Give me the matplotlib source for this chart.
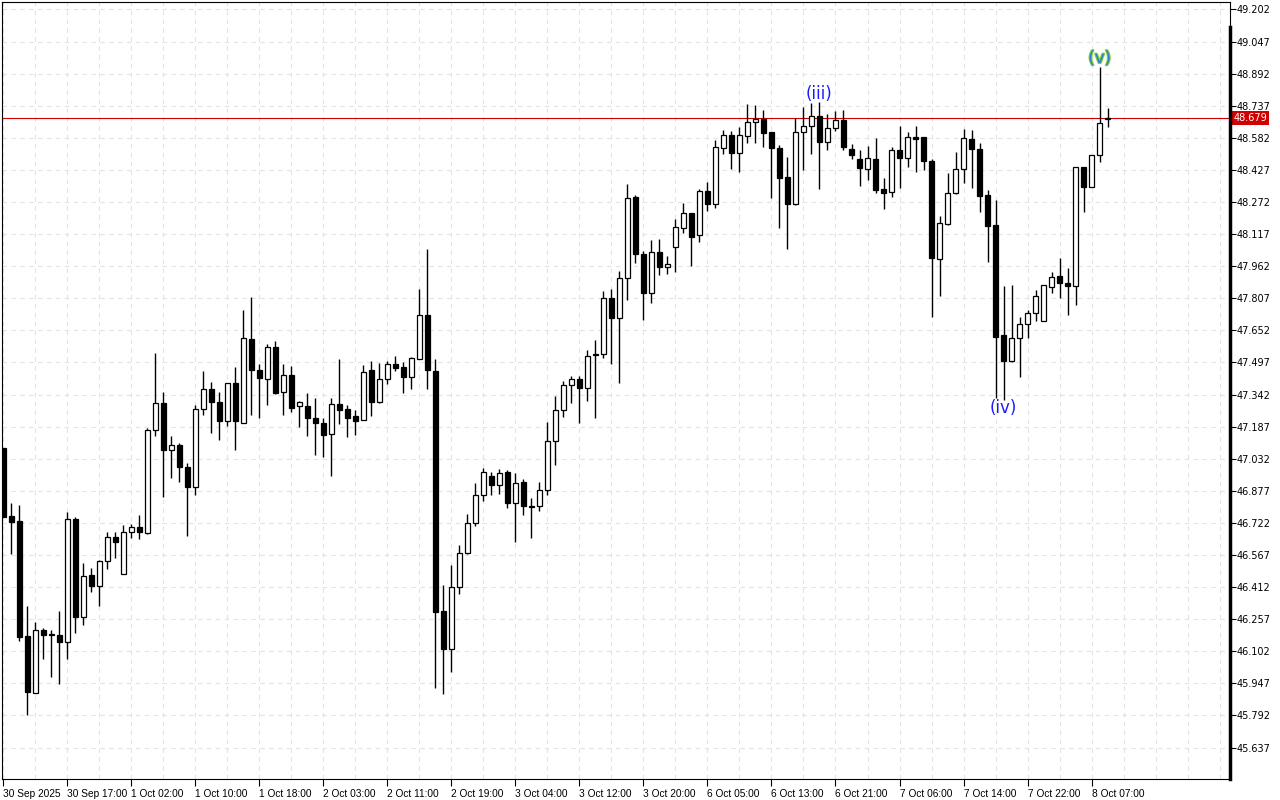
import matplotlib
matplotlib.use("Agg")
from matplotlib import pyplot as plt
from matplotlib.ticker import MultipleLocator
import matplotlib.patheffects as pe
import numpy as np

# hourly candles
opens = [47.082, 46.755, 46.731, 46.174, 45.902, 46.203, 46.185, 46.180, 46.148, 46.742,
         46.269, 46.470, 46.419, 46.536, 46.654, 46.474, 46.677, 46.701, 46.675, 47.169,
         47.300, 47.074, 47.098, 46.992, 46.897, 47.271, 47.367, 47.305, 47.216, 47.396,
         47.206, 47.609, 47.461, 47.418, 47.570, 47.353, 47.435, 47.285, 47.285, 47.230,
         47.205, 47.150, 47.296, 47.272, 47.238, 47.218, 47.461, 47.307, 47.416, 47.488,
         47.474, 47.425, 47.515, 47.725, 47.454, 46.296, 46.111, 46.411, 46.575, 46.720,
         46.855, 46.947, 46.904, 46.966, 46.820, 46.918, 46.804, 46.804, 46.879, 47.116,
         47.266, 47.387, 47.416, 47.375, 47.536, 47.536, 47.807, 47.710, 47.904, 48.295,
         48.020, 47.834, 48.029, 47.960, 48.053, 48.145, 48.218, 48.111, 48.327, 48.261,
         48.532, 48.594, 48.507, 48.590, 48.657, 48.675, 48.609, 48.532, 48.391, 48.261,
         48.609, 48.639, 48.688, 48.561, 48.628, 48.668, 48.527, 48.478, 48.430, 48.478,
         48.335, 48.319, 48.522, 48.486, 48.585, 48.585, 48.470, 47.995, 48.164, 48.314,
         48.430, 48.575, 48.527, 48.306, 48.161, 47.630, 47.505, 47.614, 47.681, 47.734,
         47.699, 47.860, 47.915, 47.879, 47.868, 48.440, 48.346, 48.498, 48.672]
highs = [47.085, 46.820, 46.808, 46.322, 46.243, 46.213, 46.203, 46.296, 46.776, 46.752,
         46.528, 46.506, 46.543, 46.679, 46.679, 46.712, 46.715, 46.760, 47.182, 47.544,
         47.354, 47.142, 47.107, 47.010, 47.291, 47.457, 47.404, 47.354, 47.396, 47.474,
         47.750, 47.815, 47.490, 47.585, 47.601, 47.490, 47.480, 47.309, 47.348, 47.327,
         47.230, 47.324, 47.514, 47.291, 47.267, 47.485, 47.504, 47.493, 47.506, 47.527,
         47.498, 47.525, 47.852, 48.045, 47.514, 46.422, 46.519, 46.615, 46.765, 46.913,
         46.987, 46.966, 46.982, 46.978, 46.963, 46.933, 46.841, 46.918, 47.211, 47.335,
         47.406, 47.432, 47.432, 47.557, 47.605, 47.842, 47.852, 47.939, 48.358, 48.306,
         48.035, 48.089, 48.093, 48.011, 48.189, 48.269, 48.218, 48.335, 48.367, 48.572,
         48.620, 48.614, 48.633, 48.744, 48.741, 48.717, 48.609, 48.548, 48.491, 48.677,
         48.733, 48.749, 48.754, 48.697, 48.712, 48.717, 48.551, 48.523, 48.543, 48.580,
         48.387, 48.536, 48.639, 48.609, 48.639, 48.585, 48.478, 48.205, 48.414, 48.512,
         48.625, 48.620, 48.556, 48.330, 48.282, 47.866, 47.871, 47.718, 47.750, 47.847,
         47.871, 47.933, 48.000, 47.952, 48.440, 48.440, 48.498, 48.926, 48.725]
lows = [46.750, 46.572, 46.151, 45.794, 45.899, 46.066, 45.979, 45.945, 46.066, 46.191,
        46.229, 46.388, 46.322, 46.501, 46.554, 46.474, 46.650, 46.643, 46.668, 47.143,
        46.849, 46.940, 46.921, 46.660, 46.857, 47.243, 47.158, 47.122, 47.190, 47.074,
        47.203, 47.243, 47.230, 47.291, 47.343, 47.243, 47.259, 47.187, 47.143, 47.050,
        47.042, 46.950, 47.198, 47.138, 47.148, 47.218, 47.240, 47.303, 47.394, 47.454,
        47.351, 47.370, 47.512, 47.370, 45.923, 45.894, 46.000, 46.377, 46.570, 46.708,
        46.829, 46.858, 46.860, 46.792, 46.628, 46.759, 46.648, 46.781, 46.858, 47.003,
        47.235, 47.303, 47.206, 47.312, 47.230, 47.517, 47.488, 47.396, 47.799, 47.979,
        47.702, 47.786, 47.920, 47.923, 47.935, 48.121, 47.964, 48.080, 48.230, 48.242,
        48.503, 48.433, 48.419, 48.556, 48.556, 48.539, 48.293, 48.145, 48.044, 48.258,
        48.427, 48.503, 48.336, 48.523, 48.615, 48.523, 48.480, 48.351, 48.378, 48.314,
        48.237, 48.298, 48.341, 48.443, 48.419, 48.427, 47.718, 47.820, 48.160, 48.309,
        48.365, 48.341, 48.222, 47.984, 47.324, 47.316, 47.501, 47.428, 47.614, 47.699,
        47.699, 47.831, 47.807, 47.726, 47.775, 48.225, 48.346, 48.464, 48.633]
closes = [46.752, 46.728, 46.172, 45.906, 46.203, 46.182, 46.179, 46.148, 46.741, 46.269,
          46.465, 46.419, 46.538, 46.654, 46.628, 46.677, 46.701, 46.679, 47.169, 47.300,
          47.076, 47.097, 46.993, 46.897, 47.271, 47.367, 47.307, 47.216, 47.396, 47.216,
          47.614, 47.459, 47.423, 47.570, 47.351, 47.435, 47.278, 47.305, 47.230, 47.206,
          47.148, 47.295, 47.269, 47.230, 47.216, 47.449, 47.307, 47.416, 47.488, 47.472,
          47.425, 47.517, 47.725, 47.462, 46.293, 46.111, 46.411, 46.575, 46.720, 46.855,
          46.969, 46.904, 46.964, 46.820, 46.916, 46.802, 46.800, 46.879, 47.116, 47.266,
          47.387, 47.416, 47.375, 47.528, 47.534, 47.807, 47.710, 47.904, 48.290, 48.020,
          47.831, 48.029, 47.960, 47.971, 48.150, 48.218, 48.105, 48.327, 48.261, 48.536,
          48.594, 48.507, 48.594, 48.657, 48.675, 48.604, 48.532, 48.390, 48.261, 48.612,
          48.639, 48.688, 48.561, 48.628, 48.668, 48.536, 48.498, 48.438, 48.483, 48.330,
          48.317, 48.522, 48.486, 48.585, 48.578, 48.472, 48.003, 48.169, 48.314, 48.430,
          48.580, 48.527, 48.303, 48.158, 47.621, 47.505, 47.614, 47.681, 47.734, 47.818,
          47.871, 47.908, 47.879, 47.868, 48.440, 48.346, 48.498, 48.652, 48.679]

time_labels = ["30 Sep 2025", "30 Sep 17:00", "1 Oct 02:00", "1 Oct 10:00", "1 Oct 18:00",
               "2 Oct 03:00", "2 Oct 11:00", "2 Oct 19:00", "3 Oct 04:00", "3 Oct 12:00",
               "3 Oct 20:00", "6 Oct 05:00", "6 Oct 13:00", "6 Oct 21:00", "7 Oct 06:00",
               "7 Oct 14:00", "7 Oct 22:00", "8 Oct 07:00"]
price_ticks = [45.637, 45.792, 45.947, 46.102, 46.257, 46.412, 46.567, 46.722, 46.877,
               47.032, 47.187, 47.342, 47.497, 47.652, 47.807, 47.962, 48.117, 48.272,
               48.427, 48.582, 48.737, 48.892, 49.047, 49.202]
last_price = 48.679

# wave labels: (text, bar index, price)
wave_labels = [("(iii)", 102, 48.794), ("(iv)", 125, 47.277), ("(v)", 137, 48.968)]

o = np.array(opens)
h = np.array(highs)
l = np.array(lows)
c = np.array(closes)
x = np.arange(len(o))
up = c >= o

fig = plt.figure(figsize=(12.8, 8), dpi=100)
ax = fig.add_axes([2/1280, 21/800, 1228/1280, 777/800])

# grid
ax.set_axisbelow(True)
ax.xaxis.set_minor_locator(MultipleLocator(4))
ax.grid(True, which="both", axis="x", color="#e3e3e3", linestyle=(0, (4, 4)), linewidth=0.8)
ax.grid(True, which="major", axis="y", color="#e3e3e3", linestyle=(0, (4, 4)), linewidth=0.8)

# candles
ax.vlines(x, l, h, color="black", linewidth=1.0, zorder=2)
body_low = np.minimum(o, c)
body_h = np.maximum(np.abs(c - o), 0.004)
ax.bar(x[up], body_h[up], bottom=body_low[up], width=0.6, color="white",
       edgecolor="black", linewidth=0.9, zorder=3)
ax.bar(x[~up], body_h[~up], bottom=body_low[~up], width=0.6, color="black",
       edgecolor="black", linewidth=0.9, zorder=3)

# last price line + tag
ax.axhline(last_price, color="#d00000", linewidth=0.8, zorder=1)
ax.text(1.003, last_price, f"{last_price:.3f}", transform=ax.get_yaxis_transform(),
        ha="left", va="center", fontsize=7, color="white",
        bbox=dict(boxstyle="square,pad=0.2", facecolor="#d00000", edgecolor="none"))

# wave labels
for txt, xi, yv in wave_labels:
    if txt == "(v)":
        ax.text(xi, yv, txt, ha="center", va="center", fontsize=12, color="#2a7fd0", zorder=4,
                path_effects=[pe.withStroke(linewidth=1.6, foreground="#7fcf30")])
    else:
        ax.text(xi, yv, txt, ha="center", va="center", fontsize=12, color="#1a1aff", zorder=4)

ax.set_xlim(-0.16, 153.3)
ax.set_ylim(45.485, 49.238)

ax.set_xticks(np.arange(0, 8 * len(time_labels), 8))
ax.set_xticklabels(time_labels, ha="left", fontsize=7.3, family="Liberation Sans")
ax.tick_params(axis="x", which="major", length=5, width=0.8, pad=2)
ax.tick_params(axis="x", which="minor", length=0)

ax.yaxis.tick_right()
ax.set_yticks(price_ticks)
ax.set_yticklabels([f"{v:.3f}" for v in price_ticks], fontsize=7)
ax.tick_params(axis="y", length=4, width=0.8, pad=1)

for s in ["top", "left", "bottom", "right"]:
    ax.spines[s].set_linewidth(0.8)
ax.plot([1, 1], [0, 0.968], transform=ax.transAxes, color="black", linewidth=2.5,
        clip_on=False, zorder=6)

fig.savefig("out.png", dpi=100)
